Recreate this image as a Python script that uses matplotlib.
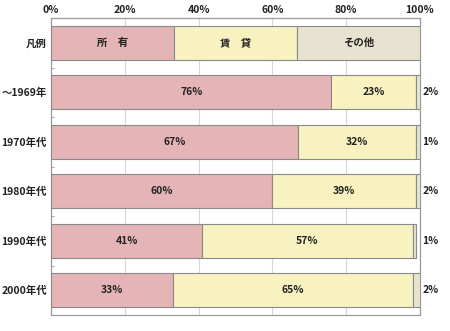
import matplotlib
matplotlib.use("Agg")
import matplotlib.pyplot as plt
import numpy as np

plt.rcParams['font.family'] = ['Noto Sans CJK JP', 'DejaVu Sans']

# Housing tenure share by construction period (%)
periods = ["～1969年", "1970年代", "1980年代", "1990年代", "2000年代"]
owned = [76, 67, 60, 41, 33]
rented = [23, 32, 39, 57, 65]
other = [2, 1, 2, 1, 2]

legend_label = "凡例"
legend_names = ["所　有", "賃　貸", "その他"]
legend_shares = [100 / 3, 100 / 3, 100 / 3]

x_ticks = [0, 20, 40, 60, 80, 100]
x_tick_labels = ["0%", "20%", "40%", "60%", "80%", "100%"]

colors = ["#E4B4B6", "#F8F2C0", "#E8E2D1"]
edge = "#8a8a8a"
text_color = "#222222"
fs = 7.5
fw = "bold"

fig = plt.figure(figsize=(4.5, 3.31), dpi=100)
ax = fig.add_axes([51 / 450, 1 - 315 / 331, 369 / 450, 297 / 331])

rows = [legend_label] + periods
y = np.arange(len(rows))
bar_h = 0.69

# legend row
left = 0
for share, name, c in zip(legend_shares, legend_names, colors):
    ax.barh(y[0], share, left=left, height=bar_h, color=c, edgecolor=edge, linewidth=0.8, zorder=3)
    ax.text(left + share / 2, y[0], name, ha="center", va="center", fontsize=fs,
            fontweight=fw, color=text_color, zorder=4)
    left += share

# data rows
yd = y[1:]
ax.barh(yd, owned, height=bar_h, color=colors[0], edgecolor=edge, linewidth=0.8, zorder=3)
ax.barh(yd, rented, left=owned, height=bar_h, color=colors[1], edgecolor=edge, linewidth=0.8, zorder=3)
base2 = np.array(owned) + np.array(rented)
ax.barh(yd, other, left=base2, height=bar_h, color=colors[2], edgecolor=edge, linewidth=0.8, zorder=3)

for yi, o, r, t in zip(yd, owned, rented, other):
    ax.text(o / 2, yi, f"{o}%", ha="center", va="center", fontsize=fs, fontweight=fw,
            color=text_color, zorder=4)
    ax.text(o + r / 2, yi, f"{r}%", ha="center", va="center", fontsize=fs, fontweight=fw,
            color=text_color, zorder=4)
    ax.text(100.6, yi, f"{t}%", ha="left", va="center", fontsize=fs, fontweight=fw,
            color=text_color, clip_on=False, zorder=4)

ax.set_xlim(0, 100)
ax.set_ylim(len(rows) - 0.5, -0.5)

ax.set_xticks(x_ticks)
ax.set_xticklabels(x_tick_labels, fontsize=fs, fontweight=fw, color=text_color)
ax.xaxis.tick_top()
ax.tick_params(axis="x", length=0, pad=2)

ax.set_yticks(y)
ax.set_yticklabels(rows, fontsize=fs, fontweight=fw, color=text_color)
ax.tick_params(axis="y", length=0, pad=3)
ax.set_yticks(np.arange(0.5, len(rows) - 0.5, 1), minor=True)
ax.tick_params(axis="y", which="minor", direction="in", length=2.5, color="#999999")

ax.grid(axis="x", color="#d6d6d6", linewidth=0.8, zorder=0)
for s in ax.spines.values():
    s.set_color("#9a9a9a")
    s.set_linewidth(0.9)

fig.savefig("out.png", dpi=100, facecolor="white")
